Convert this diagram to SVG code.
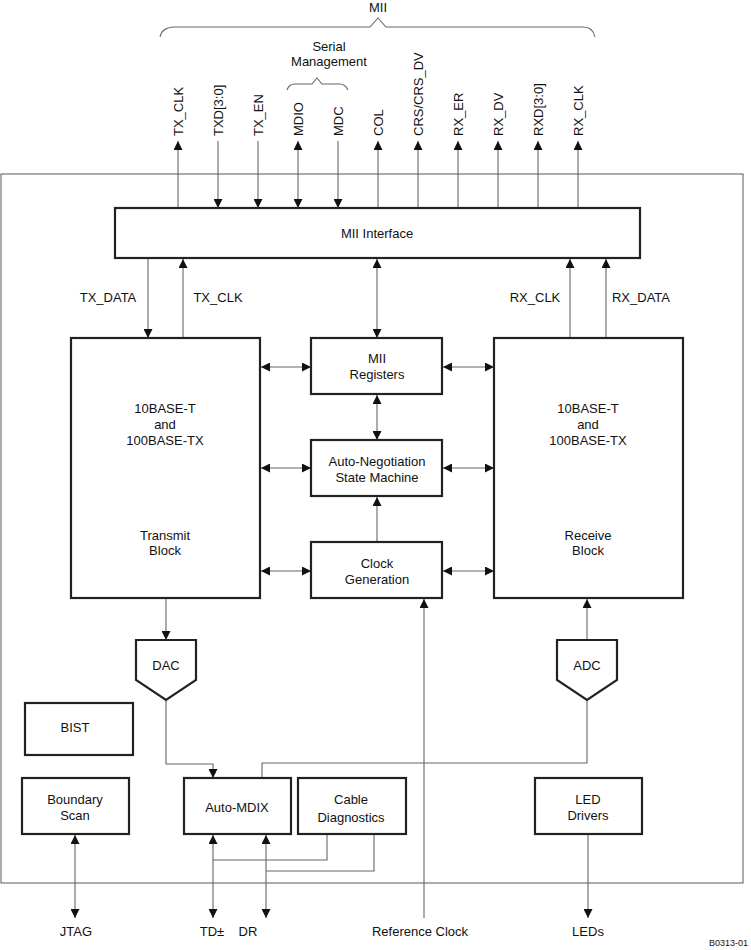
<svg xmlns="http://www.w3.org/2000/svg" width="751" height="950" viewBox="0 0 751 950">
<style>
text{font-family:"Liberation Sans",Arial,sans-serif;font-size:13px;fill:#111}
.b{fill:#fff;stroke:#222;stroke-width:2.2}
.l{fill:none;stroke:#666;stroke-width:1.1}
.c{text-anchor:middle}
</style>
<defs>
<marker id="a" viewBox="0 0 10 10" refX="10" refY="5" markerWidth="9" markerHeight="9" markerUnits="userSpaceOnUse" orient="auto-start-reverse"><path d="M0,0L10,5L0,10z" fill="#111"/></marker>
</defs>
<rect x="1" y="174" width="742" height="709" fill="none" stroke="#666" stroke-width="1.1"/>
<g id="connectors" class="l">
<path class="l" d="M160,37 Q162,27 175,27 L370,27 L378,18 L386,27 L583,27 Q593,27 595,37"/>
<path class="l" d="M287,90 Q289,84 295,84 L312,84 L317,78 L322,84 L340,84 Q345,84 348,90"/>
<path class="l" d="M178,208V141" marker-end="url(#a)"/>
<path class="l" d="M218,141V208" marker-end="url(#a)"/>
<path class="l" d="M258,141V208" marker-end="url(#a)"/>
<path class="l" d="M298,141V208" marker-start="url(#a)" marker-end="url(#a)"/>
<path class="l" d="M338,141V208" marker-end="url(#a)"/>
<path class="l" d="M378,208V141" marker-end="url(#a)"/>
<path class="l" d="M418,208V141" marker-end="url(#a)"/>
<path class="l" d="M458,208V141" marker-end="url(#a)"/>
<path class="l" d="M498,208V141" marker-end="url(#a)"/>
<path class="l" d="M538,208V141" marker-end="url(#a)"/>
<path class="l" d="M578,208V141" marker-end="url(#a)"/>
<path class="l" d="M148,259V338" marker-end="url(#a)"/>
<path class="l" d="M183,338V259" marker-end="url(#a)"/>
<path class="l" d="M570,338V259" marker-end="url(#a)"/>
<path class="l" d="M606,338V259" marker-end="url(#a)"/>
<path class="l" d="M377,259V338" marker-start="url(#a)" marker-end="url(#a)"/>
<path class="l" d="M377,395V440" marker-start="url(#a)" marker-end="url(#a)"/>
<path class="l" d="M377,542V497" marker-end="url(#a)"/>
<path class="l" d="M261,367H311" marker-start="url(#a)" marker-end="url(#a)"/>
<path class="l" d="M443,367H494" marker-start="url(#a)" marker-end="url(#a)"/>
<path class="l" d="M261,468H311" marker-start="url(#a)" marker-end="url(#a)"/>
<path class="l" d="M443,468H494" marker-start="url(#a)" marker-end="url(#a)"/>
<path class="l" d="M261,571H311" marker-start="url(#a)" marker-end="url(#a)"/>
<path class="l" d="M443,571H494" marker-start="url(#a)" marker-end="url(#a)"/>
<path class="l" d="M166,599V640" marker-end="url(#a)"/>
<path class="l" d="M587,640V599" marker-end="url(#a)"/>
<path class="l" d="M166,700V764H213V778" marker-end="url(#a)"/>
<path class="l" d="M587,700V763H262V778"/>
<path class="l" d="M424,918V599" marker-end="url(#a)"/>
<path class="l" d="M213,835V918" marker-start="url(#a)" marker-end="url(#a)"/>
<path class="l" d="M266,835V918" marker-start="url(#a)" marker-end="url(#a)"/>
<path class="l" d="M327,835V860H213"/>
<path class="l" d="M374,835V871H266"/>
<path class="l" d="M75,835V918" marker-start="url(#a)" marker-end="url(#a)"/>
<path class="l" d="M588,835V918" marker-end="url(#a)"/>
</g>
<g id="labels">
<text x="378" y="12" class="c">MII</text>
<text x="329" y="51" class="c">Serial</text>
<text x="329" y="66" class="c">Management</text>
<text transform="translate(183,136) rotate(-90)">TX_CLK</text>
<text transform="translate(223,136) rotate(-90)">TXD[3:0]</text>
<text transform="translate(263,136) rotate(-90)">TX_EN</text>
<text transform="translate(303,136) rotate(-90)">MDIO</text>
<text transform="translate(343,136) rotate(-90)">MDC</text>
<text transform="translate(383,136) rotate(-90)">COL</text>
<text transform="translate(423,136) rotate(-90)">CRS/CRS_DV</text>
<text transform="translate(463,136) rotate(-90)">RX_ER</text>
<text transform="translate(503,136) rotate(-90)">RX_DV</text>
<text transform="translate(543,136) rotate(-90)">RXD[3:0]</text>
<text transform="translate(583,136) rotate(-90)">RX_CLK</text>
<text x="108" y="302" class="c">TX_DATA</text>
<text x="218" y="302" class="c">TX_CLK</text>
<text x="535" y="302" class="c">RX_CLK</text>
<text x="641" y="302" class="c">RX_DATA</text>
<text x="76" y="936" class="c">JTAG</text>
<text x="212" y="936" class="c">TD±</text>
<text x="248" y="936" class="c">DR</text>
<text x="420" y="936" class="c">Reference Clock</text>
<text x="588" y="936" class="c">LEDs</text>
<text x="748" y="946" text-anchor="end" style="font-size:9px">B0313-01</text>
</g>
<g id="mii"><rect class="b" x="115" y="208" width="525" height="50"/><text x="377" y="238" class="c">MII Interface</text></g>
<g id="tx"><rect class="b" x="71" y="338" width="189" height="260"/><text x="165" y="413" class="c">10BASE-T</text><text x="165" y="429" class="c">and</text><text x="165" y="445" class="c">100BASE-TX</text><text x="165" y="540" class="c">Transmit</text><text x="165" y="555" class="c">Block</text></g>
<g id="rx"><rect class="b" x="494" y="338" width="189" height="260"/><text x="588" y="413" class="c">10BASE-T</text><text x="588" y="429" class="c">and</text><text x="588" y="445" class="c">100BASE-TX</text><text x="588" y="540" class="c">Receive</text><text x="588" y="555" class="c">Block</text></g>
<g id="reg"><rect class="b" x="311" y="338" width="131" height="56"/><text x="377" y="363" class="c">MII</text><text x="377" y="379" class="c">Registers</text></g>
<g id="an"><rect class="b" x="311" y="440" width="131" height="56"/><text x="377" y="466" class="c">Auto-Negotiation</text><text x="377" y="482" class="c">State Machine</text></g>
<g id="clk"><rect class="b" x="311" y="542" width="131" height="56"/><text x="377" y="568" class="c">Clock</text><text x="377" y="584" class="c">Generation</text></g>
<g id="dac"><path class="b" d="M136,640H196V680L166,700L136,680Z"/><text x="166" y="670" class="c">DAC</text></g>
<g id="adc"><path class="b" d="M557,640H617V680L587,700L557,680Z"/><text x="587" y="670" class="c">ADC</text></g>
<g id="bist"><rect class="b" x="25" y="703" width="108" height="52"/><text x="75" y="732" class="c">BIST</text></g>
<g id="bscan"><rect class="b" x="22" y="778" width="107" height="56"/><text x="75" y="804" class="c">Boundary</text><text x="75" y="820" class="c">Scan</text></g>
<g id="mdix"><rect class="b" x="184" y="778" width="107" height="56"/><text x="237" y="812" class="c">Auto-MDIX</text></g>
<g id="cable"><rect class="b" x="298" y="778" width="108" height="56"/><text x="351" y="804" class="c">Cable</text><text x="351" y="822" class="c">Diagnostics</text></g>
<g id="led"><rect class="b" x="535" y="778" width="107" height="56"/><text x="588" y="804" class="c">LED</text><text x="588" y="820" class="c">Drivers</text></g>
</svg>
